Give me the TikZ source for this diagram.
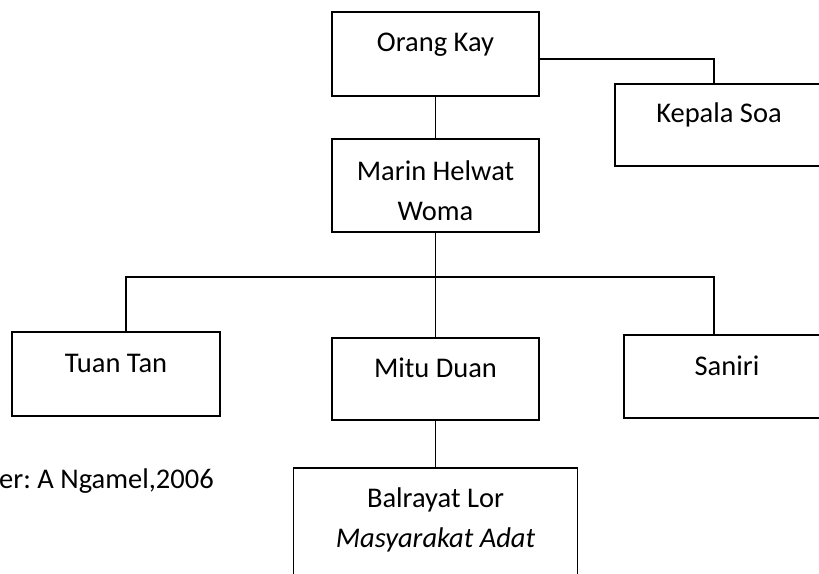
\documentclass[tikz,border=0pt]{standalone}
\usepackage{fontspec}
\setmainfont{Carlito}
\usetikzlibrary{positioning}
\tikzset{%
  unit box/.style={
    rectangle,
    draw,
    line width=1.8pt,
    inner sep=0pt,
    align=center,
    font=\fontsize{28.5}{39.5}\selectfont,
    minimum width=207pt
  },
  unit line/.style={
    line width=1.8pt
  },
}

\begin{document}
\begin{tikzpicture}[x=1pt, y=-1pt]
\useasboundingbox (0,0) rectangle (819,573);
\clip (0,0) rectangle (819,573);
\node[unit box, text height=39pt, text depth=45pt] (orang) at (435.5,54) {Orang Kay};
\node[unit box, text height=38pt, text depth=44pt, minimum width=208pt] (kepala) at (719,125) {Kepala Soa};
\node[unit box, text height=81pt, text depth=12pt] (marin) at (435.5,185.5) {Marin Helwat\\Woma};
\node[unit box, text height=40pt, text depth=44pt, minimum width=208pt] (tuan) at (116,374) {Tuan Tan};
\node[unit box, text height=39pt, text depth=43pt] (mitu) at (435.5,379) {Mitu Duan};
\node[unit box, text height=40pt, text depth=43pt, minimum width=206pt] (saniri) at (727,376.5) {Saniri};
\node[unit box, text height=79pt, text depth=43pt, minimum width=284pt] (balrayat) at (435.5,529) {Balrayat Lor\\\textit{Masyarakat Adat}};
\node[anchor=base west, inner sep=0pt, font=\fontsize{28.5}{39.5}\selectfont] (sumber) at (-1,488) {er:\ A Ngamel,2006};
\coordinate (bus) at (435.5,277);
\draw[unit line] (orang) -- (marin);
\draw[unit line] ([yshift=-5pt]orang.east) -| ([xshift=-5pt]kepala.north);
\draw[unit line] (marin) -- (mitu);
\draw[unit line] ([xshift=10pt]tuan.north) |- (bus) -| ([xshift=-13pt]saniri.north);
\draw[unit line] (mitu) -- (balrayat);
\end{tikzpicture}
\end{document}
